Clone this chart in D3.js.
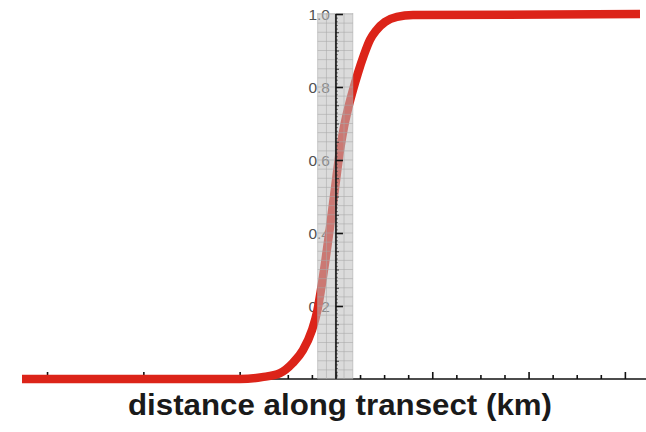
<!DOCTYPE html>
<html><head><meta charset="utf-8">
<script src="https://cdn.jsdelivr.net/npm/d3@7"></script>
<style>body{margin:0;background:#fff}svg{display:block}</style>
</head><body>
<svg id="c" width="646" height="432"></svg>
<script>
// distance along transect (relative units; 0 at the vertical axis)
const distance = [-3.26,-0.997,-0.768,-0.581,-0.447,-0.343,-0.249,-0.192,-0.156,-0.109,-0.062,-0.012,0.042,0.083,0.130,0.177,0.228,0.291,0.353,0.421,0.509,0.633,0.800,3.157];
const value    = [0,0,0.005,0.016,0.044,0.079,0.134,0.189,0.244,0.326,0.416,0.518,0.627,0.690,0.745,0.792,0.838,0.888,0.929,0.956,0.978,0.992,0.997,1.0];
const yTickLabels = ["0.2","0.4","0.6","0.8","1.0"];
const yTickValues = [0.2,0.4,0.6,0.8,1.0];
const xMajorTicks = [-3,-2,-1,0,1,2,3];
const bandExtent = [-0.19,0.175];
const xLabel = "distance along transect (km)";

const svg = d3.select("#c");
const x = d3.scaleLinear().domain([-3.26,3.157]).range([22,640]);
const y = d3.scaleLinear().domain([0,1]).range([379,14]);

// tick labels
svg.selectAll("text.yl").data(yTickValues).join("text")
  .attr("x", x(0)-6).attr("y", d=>y(d)).attr("dy","0.36em")
  .attr("text-anchor","end").attr("font-family","Liberation Sans, Arial, sans-serif")
  .attr("font-size",15.5).attr("fill","#505050").text((d,i)=>yTickLabels[i]);

// x axis baseline + ticks (drawn under curve)
const xAxisMajor = d3.axisBottom(x).tickValues(xMajorTicks).tickSize(-7).tickFormat("");
const xMinor = d3.range(-3.25,3.2,0.25).filter(v=>Math.abs(v-Math.round(v))>1e-6);
const xAxisMinor = d3.axisBottom(x).tickValues(xMinor).tickSize(-4).tickFormat("");
const gxm = svg.append("g").attr("transform",`translate(0,${y(0)})`).call(xAxisMinor);
const gx = svg.append("g").attr("transform",`translate(0,${y(0)})`).call(xAxisMajor);
gxm.select(".domain").remove();
gx.select(".domain").attr("d",`M${x.range()[0]},0H646`).attr("stroke","#111").attr("stroke-width",1.6);
[gx,gxm].forEach(g=>g.selectAll(".tick line").attr("stroke","#111").attr("stroke-width",1.6));

// curve
const line = d3.line().x((d,i)=>x(distance[i])).y(d=>y(d)).curve(d3.curveMonotoneX);
svg.append("path").datum(value).attr("d",line)
  .attr("fill","none").attr("stroke","#dc2419").attr("stroke-width",8.5);

// shaded band with grid
const bx0 = x(bandExtent[0]), bx1 = x(bandExtent[1]);
svg.append("rect").attr("x",bx0).attr("y",y(1)-1).attr("width",bx1-bx0).attr("height",y(0)-y(1)+1)
  .attr("fill","rgb(190,190,190)").attr("fill-opacity",0.55);
const gridX = d3.range(0,5).map(i=>bx0+i*(bx1-bx0)/4);
svg.selectAll("line.gv").data(gridX).join("line")
  .attr("x1",d=>d).attr("x2",d=>d).attr("y1",y(1)-1).attr("y2",y(0))
  .attr("stroke","#a8a8a8").attr("stroke-opacity",0.7).attr("stroke-width",0.8);
const gridY = d3.range(0,1.0001,0.025);
svg.selectAll("line.gh").data(gridY).join("line")
  .attr("x1",bx0).attr("x2",bx1).attr("y1",d=>y(d)).attr("y2",d=>y(d))
  .attr("stroke","#a8a8a8").attr("stroke-opacity",0.7).attr("stroke-width",0.8);

// y axis on top
const yFine = d3.range(0.01,1,0.01).filter(v=>Math.abs(v*20-Math.round(v*20))>1e-6);
const yMinor = d3.range(0.05,1,0.05).filter(v=>Math.abs(v*5-Math.round(v*5))>1e-6);
const gyf = svg.append("g").attr("transform",`translate(${x(0)},0)`).call(d3.axisRight(y).tickValues(yFine).tickSize(2).tickFormat(""));
const gyn = svg.append("g").attr("transform",`translate(${x(0)},0)`).call(d3.axisRight(y).tickValues(yMinor).tickSize(3).tickFormat(""));
const gy = svg.append("g").attr("transform",`translate(${x(0)},0)`).call(d3.axisRight(y).tickValues(yTickValues).tickSize(7).tickFormat(""));
gyf.select(".domain").remove(); gyn.select(".domain").remove();
gy.select(".domain").attr("d",`M0,${y(1)}V${y(0)}`).attr("stroke","#111").attr("stroke-width",1.6);
gyf.selectAll(".tick line").attr("stroke","#555").attr("stroke-width",0.8);
gyn.selectAll(".tick line").attr("stroke","#333").attr("stroke-width",1);
gy.selectAll(".tick line").attr("stroke","#111").attr("stroke-width",1.6);

// x label
svg.append("text").attr("x",340).attr("y",415).attr("text-anchor","middle")
  .attr("font-family","Liberation Sans, Arial, sans-serif").attr("font-weight","bold")
  .attr("font-size",29).attr("fill","#1a1a1a")
  .attr("textLength",424).attr("lengthAdjust","spacingAndGlyphs").text(xLabel);
</script>
</body></html>
